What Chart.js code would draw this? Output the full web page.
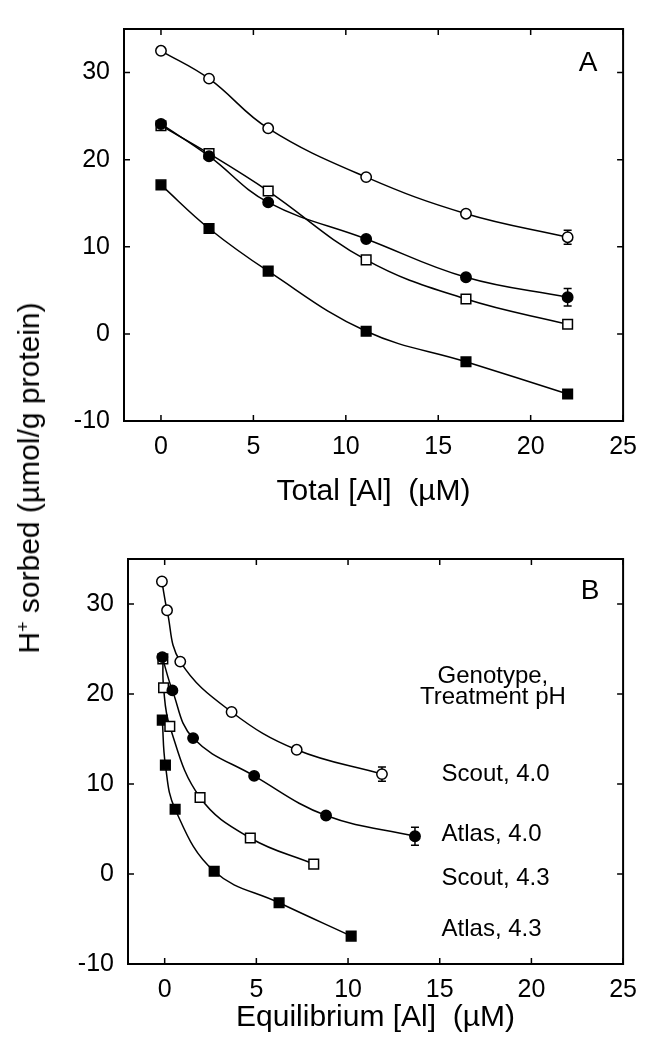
<!DOCTYPE html>
<html>
<head>
<meta charset="utf-8">
<script src="https://cdn.jsdelivr.net/npm/chart.js@4.4.1/dist/chart.umd.min.js"></script>
<style>
  html, body { margin: 0; padding: 0; background: #fff; }
  body { width: 648px; height: 1051px; position: relative; overflow: hidden; font-family: "Liberation Sans", Arial, sans-serif; }
  .panel { position: absolute; left: 0; }
  #ytitle { position: absolute; left: 29px; top: 478px; transform: translate(-50%, -50%) rotate(-90deg);
            white-space: nowrap; font-size: 30px; line-height: 1; color: #000; }
  #ytitle .sup { position: relative; top: -0.55em; font-size: 0.6em; }
</style>
</head>
<body>
<canvas id="chartA" class="panel" width="648" height="530" style="top:0;width:648px;height:530px"></canvas>
<canvas id="chartB" class="panel" width="648" height="521" style="top:530px;width:648px;height:521px"></canvas>
<div id="ytitle">H<span class="sup">+</span> sorbed (µmol/g protein)</div>
<script>
// x values: total Al (panel A) and equilibrium Al per series (panel B), µM
const totalAl = [0, 2.6, 5.8, 11.1, 16.5, 22.0];
const scout40Eq = [-0.15, 0.13, 0.85, 3.65, 7.2, 11.85];
const atlas40Eq = [-0.13, 0.42, 1.55, 4.88, 8.8, 13.65];
const scout43Eq = [-0.1, -0.06, 0.28, 1.93, 4.67, 8.13];
const atlas43Eq = [-0.13, 0.04, 0.57, 2.7, 6.24, 10.17];

// H+ sorbed, µmol/g protein (same measurements in both panels)
const scout40 = [32.5, 29.3, 23.6, 18.0, 13.8, 11.1];
const atlas40 = [24.1, 20.4, 15.1, 10.9, 6.5, 4.2];
const scout43 = [23.9, 20.7, 16.4, 8.5, 4.0, 1.1];
const atlas43 = [17.1, 12.1, 7.2, 0.3, -3.2, -6.9];

// error bars (only the last point of the pH 4.0 series has one)
const scout40Err = [0, 0, 0, 0, 0, 0.8];
const atlas40Err = [0, 0, 0, 0, 0, 1.0];

const xTicks = [0, 5, 10, 15, 20, 25];
const yTicks = [-10, 0, 10, 20, 30];
const seriesNames = ['Scout, 4.0', 'Atlas, 4.0', 'Scout, 4.3', 'Atlas, 4.3'];

const FONT = '"Liberation Sans", Arial, Helvetica, sans-serif';

function points(xs, ys) {
    return xs.map((v, i) => ({ x: v, y: ys[i] }));
}

function series(xs, ys, shape, filled, err) {
    return {
        data: points(xs, ys),
        showLine: true,
        borderColor: '#000',
        borderWidth: 1.5,
        tension: 0.4,
        pointStyle: shape,
        pointRadius: shape === 'rect' ? 6.8 : 5.2,
        pointBackgroundColor: filled ? '#000' : '#fff',
        pointBorderColor: '#000',
        pointBorderWidth: 1.5,
        errorBars: err || null
    };
}

// frame with inward ticks on all four sides, error bars and the text notes
const framePlugin = {
    id: 'frame',
    beforeDatasetsDraw(chart) {
        const { ctx, scales: { x, y } } = chart;
        ctx.save();
        ctx.strokeStyle = '#000';
        ctx.lineWidth = 1.5;
        chart.data.datasets.forEach(ds => {
            if (!ds.errorBars) return;
            ds.data.forEach((p, i) => {
                const e = ds.errorBars[i];
                if (!e) return;
                const px = x.getPixelForValue(p.x);
                const top = y.getPixelForValue(p.y + e);
                const bot = y.getPixelForValue(p.y - e);
                ctx.beginPath();
                ctx.moveTo(px, top); ctx.lineTo(px, bot);
                ctx.moveTo(px - 4, top); ctx.lineTo(px + 4, top);
                ctx.moveTo(px - 4, bot); ctx.lineTo(px + 4, bot);
                ctx.stroke();
            });
        });
        ctx.restore();
    },
    afterDraw(chart, args, opts) {
        const { ctx, chartArea: a, scales: { x, y } } = chart;
        ctx.save();
        ctx.strokeStyle = '#000';
        ctx.lineWidth = 2;
        ctx.strokeRect(a.left, a.top, a.right - a.left, a.bottom - a.top);
        ctx.lineWidth = 1.5;
        ctx.beginPath();
        x.ticks.forEach(t => {
            const px = x.getPixelForValue(t.value);
            ctx.moveTo(px, a.bottom); ctx.lineTo(px, a.bottom - 6);
            ctx.moveTo(px, a.top); ctx.lineTo(px, a.top + 6);
        });
        y.ticks.forEach(t => {
            const py = y.getPixelForValue(t.value);
            ctx.moveTo(a.left, py); ctx.lineTo(a.left + 6, py);
            ctx.moveTo(a.right, py); ctx.lineTo(a.right - 6, py);
        });
        ctx.stroke();

        ctx.fillStyle = '#000';
        ctx.textBaseline = 'middle';
        (opts.notes || []).forEach(n => {
            ctx.font = n.size + 'px ' + FONT;
            ctx.textAlign = n.align || 'center';
            ctx.fillText(n.text, x.getPixelForValue(n.x), y.getPixelForValue(n.y));
        });
        ctx.restore();
    }
};

function scales(title, dims) {
    const tickFont = { family: FONT, size: 25 };
    return {
        x: {
            type: 'linear', min: -2, max: 25,
            afterBuildTicks: s => { s.ticks = xTicks.map(v => ({ value: v })); },
            afterFit: s => { s.height = dims.xHeight; },
            grid: { display: false, drawTicks: false },
            border: { display: false },
            ticks: { color: '#000', font: tickFont, padding: 11, maxRotation: 0, autoSkip: false, callback: v => String(v) },
            title: { display: true, text: title, color: '#000',
                     font: { family: FONT, size: 30, lineHeight: 1 },
                     padding: { top: 0, bottom: dims.titlePad } }
        },
        y: {
            type: 'linear', min: -10, max: 35,
            afterBuildTicks: s => { s.ticks = yTicks.map(v => ({ value: v })); },
            afterFit: s => { s.width = dims.yWidth; },
            grid: { display: false, drawTicks: false },
            border: { display: false },
            ticks: { color: '#000', font: tickFont, padding: 14, autoSkip: false, callback: v => String(v) }
        }
    };
}

function makeChart(id, xsList, title, dims, notes) {
    return new Chart(document.getElementById(id), {
        type: 'scatter',
        data: {
            datasets: [
                series(xsList[0], scout40, 'circle', false, scout40Err),
                series(xsList[1], atlas40, 'circle', true, atlas40Err),
                series(xsList[2], scout43, 'rect', false),
                series(xsList[3], atlas43, 'rect', true)
            ]
        },
        options: {
            responsive: false,
            animation: false,
            devicePixelRatio: 1,
            layout: { padding: { left: 0, top: dims.top, right: dims.right, bottom: 0 } },
            scales: scales(title, dims),
            plugins: {
                legend: { display: false },
                tooltip: { enabled: false },
                frame: { notes: notes }
            },
            events: []
        },
        plugins: [framePlugin]
    });
}

makeChart('chartA', [totalAl, totalAl, totalAl, totalAl], 'Total [Al]  (µM)',
    { top: 11, right: 21, yWidth: 124, xHeight: 109, titlePad: 23 },
    [{ text: 'A', x: 23.1, y: 31.1, size: 28 }]);

makeChart('chartB', [scout40Eq, atlas40Eq, scout43Eq, atlas43Eq], 'Equilibrium [Al]  (µM)',
    { top: 23, right: 17, yWidth: 128, xHeight: 87, titlePad: 18 },
    [
        { text: 'B', x: 23.2, y: 31.4, size: 28 },
        { text: 'Genotype,', x: 17.9, y: 22.0, size: 24 },
        { text: 'Treatment pH', x: 17.9, y: 19.6, size: 24 },
        { text: seriesNames[0], x: 15.1, y: 11.1, size: 24, align: 'left' },
        { text: seriesNames[1], x: 15.1, y: 4.4, size: 24, align: 'left' },
        { text: seriesNames[2], x: 15.1, y: -0.5, size: 24, align: 'left' },
        { text: seriesNames[3], x: 15.1, y: -6.2, size: 24, align: 'left' }
    ]);
</script>
</body>
</html>
